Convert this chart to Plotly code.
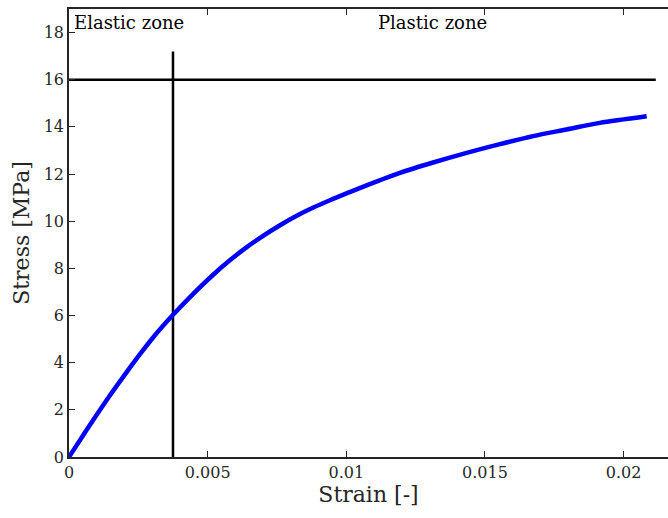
import plotly.graph_objects as go

# Stress-strain curve samples
strain = [0.0, 0.00040, 0.00088, 0.00148, 0.00208, 0.00256, 0.00304, 0.00376,
          0.00448, 0.00520, 0.00580, 0.00641, 0.00700, 0.00761, 0.00821,
          0.00881, 0.00941, 0.01001, 0.01073, 0.01193, 0.01313, 0.01434,
          0.01554, 0.01674, 0.01794, 0.01914, 0.02083]
stress = [0.0, 0.72, 1.58, 2.62, 3.60, 4.36, 5.08, 6.04,
          6.92, 7.73, 8.34, 8.90, 9.38, 9.83, 10.23,
          10.58, 10.89, 11.18, 11.52, 12.05, 12.49, 12.90,
          13.27, 13.61, 13.89, 14.17, 14.45]

# Reference lines: yield strain divider and stress level
yield_strain = 0.00375
yield_line_top = 17.2
stress_level = 16
stress_line_end = 0.02116

x_ticks = [0, 0.005, 0.01, 0.015, 0.02]
x_tick_labels = ["0", "0.005", "0.01", "0.015", "0.02"]
y_ticks = [0, 2, 4, 6, 8, 10, 12, 14, 16, 18]

FONT = "DejaVu Serif"
AXIS_COLOR = "#262626"

fig = go.Figure()

fig.add_trace(go.Scatter(
    x=[yield_strain, yield_strain], y=[0, yield_line_top],
    mode="lines", line=dict(color="black", width=2.5), showlegend=False,
    hoverinfo="skip"))
fig.add_trace(go.Scatter(
    x=[0, stress_line_end], y=[stress_level, stress_level],
    mode="lines", line=dict(color="black", width=2.5), showlegend=False,
    hoverinfo="skip"))
fig.add_trace(go.Scatter(
    x=strain, y=stress, mode="lines",
    line=dict(color="#0000FF", width=4.5, shape="spline", smoothing=0.8),
    showlegend=False))

fig.add_annotation(x=0.0001, y=19, xref="x", yref="y", text="Elastic zone",
                   showarrow=False, xanchor="left", yanchor="top",
                   yshift=-1, font=dict(family=FONT, size=18, color="black"))
fig.add_annotation(x=0.0131, y=19, xref="x", yref="y", text="Plastic zone",
                   showarrow=False, xanchor="center", yanchor="top",
                   yshift=-1, font=dict(family=FONT, size=18, color="black"))

fig.update_layout(
    width=668, height=518,
    margin=dict(l=69, r=0, t=9, b=61),
    paper_bgcolor="white", plot_bgcolor="white",
    font=dict(family=FONT, color=AXIS_COLOR),
    xaxis=dict(
        range=[0, 0.0216], tickvals=x_ticks, ticktext=x_tick_labels,
        ticks="inside", ticklen=6, tickwidth=1, tickcolor=AXIS_COLOR,
        showline=True, linecolor=AXIS_COLOR, linewidth=1.5, mirror="ticks",
        showgrid=False, zeroline=False,
        tickfont=dict(family=FONT, size=16, color=AXIS_COLOR),
        title=dict(text="Strain [-]", standoff=4,
                   font=dict(family=FONT, size=22, color=AXIS_COLOR)),
    ),
    yaxis=dict(
        range=[0, 19], tickvals=y_ticks,
        ticks="inside", ticklen=6, tickwidth=1, tickcolor=AXIS_COLOR,
        showline=True, linecolor=AXIS_COLOR, linewidth=1.5,
        showgrid=False, zeroline=False,
        tickfont=dict(family=FONT, size=16, color=AXIS_COLOR),
        title=dict(text="Stress [MPa]", standoff=8,
                   font=dict(family=FONT, size=22, color=AXIS_COLOR)),
    ),
)

fig.write_html("out.html")
